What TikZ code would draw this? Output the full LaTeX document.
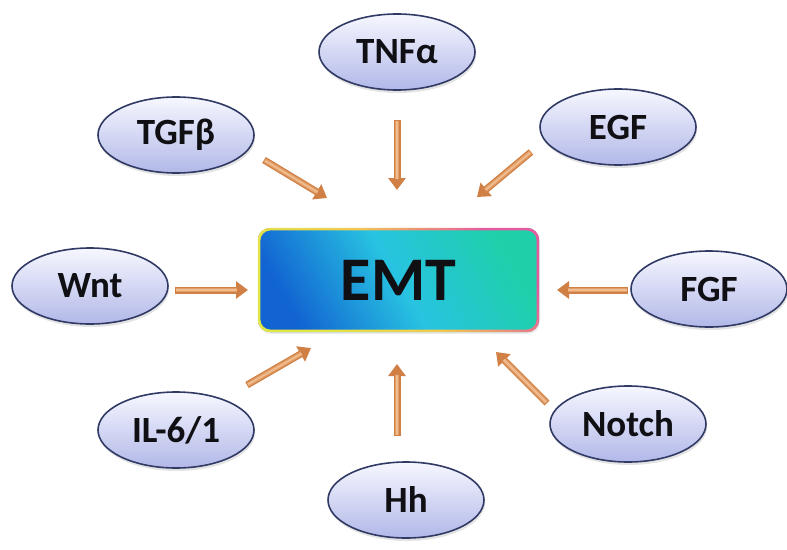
\documentclass[tikz,border=0pt]{standalone}
\usepackage{fontspec}
\setmainfont{Carlito}
\usetikzlibrary{shapes.geometric,arrows.meta,shadows}
\definecolor{ellborder}{RGB}{48,58,100}
\definecolor{elltop}{RGB}{246,247,255}
\definecolor{ellbot}{RGB}{178,184,232}
\definecolor{arrdark}{RGB}{208,128,68}
\definecolor{arrmid}{RGB}{226,158,104}
\definecolor{arrlight}{RGB}{240,188,142}
\definecolor{emtblue}{RGB}{18,100,210}
\definecolor{emtcyan}{RGB}{40,195,225}
\definecolor{emtteal}{RGB}{30,208,170}
\definecolor{rimyellow}{RGB}{225,232,70}
\definecolor{rimorange}{RGB}{242,200,80}
\definecolor{rimpink}{RGB}{230,90,160}
\definecolor{txt}{RGB}{15,15,20}
\begin{document}
\begin{tikzpicture}[x=1pt,y=-1pt,
  sigbox/.style={ellipse, draw=ellborder, line width=1.6pt, top color=elltop, bottom color=ellbot,
    minimum width=156pt, minimum height=76pt, inner sep=0pt, text=txt,
    font=\fontsize{37}{40}\selectfont\bfseries,
    drop shadow={shadow xshift=1pt, shadow yshift=-3pt, opacity=0.22}},
  emtbox/.style={rectangle, rounded corners=12pt, minimum width=281pt, minimum height=104pt,
    top color=emtteal, bottom color=emtblue, middle color=emtcyan, shading angle=-60,
    text=txt, font=\fontsize{62}{64}\selectfont\bfseries,
    drop shadow={shadow xshift=1pt, shadow yshift=-2pt, opacity=0.15}},
  rim/.style={even odd rule, top color=rimpink, bottom color=rimyellow, middle color=rimorange, shading angle=-50},
  shaft/.style={draw=arrdark, line width=7pt, -{Triangle[length=12pt,width=17pt]}},
  shaftmid/.style={draw=arrmid, line width=4.4pt, shorten >=11pt, shorten <=0.8pt},
  shine/.style={draw=arrlight, line width=1.8pt, shorten >=11pt, shorten <=1.4pt},
]
\useasboundingbox (0,0) rectangle (787,549);

% central box
\node[emtbox] (emt) at (398.5,280) {EMT};
\shade[rim, rounded corners=12pt] (emt.south west) rectangle (emt.north east)
  [rounded corners=10pt] ([shift={(2.6pt,2.6pt)}]emt.south west) rectangle ([shift={(-2.6pt,-2.6pt)}]emt.north east);

% signal ellipses
\node[sigbox] (tnf) at (397,52) {TNFα};
\node[sigbox] (tgf) at (176,135) {TGFβ};
\node[sigbox] (egf) at (618,127) {EGF};
\node[sigbox] (wnt) at (90,286) {Wnt};
\node[sigbox] (fgf) at (709,289) {FGF};
\node[sigbox] (il) at (176,430) {IL-6/1};
\node[sigbox] (hh) at (406,500) {Hh};
\node[sigbox] (notch) at (628,424) {Notch};

% arrow ends
\coordinate (tnfA) at (397,120);   \coordinate (tnfB) at (397,190);
\coordinate (tgfA) at (264,160);   \coordinate (tgfB) at (327,198);
\coordinate (egfA) at (531,152);   \coordinate (egfB) at (477,197);
\coordinate (wntA) at (175,290);   \coordinate (wntB) at (248,290);
\coordinate (fgfA) at (628,290);   \coordinate (fgfB) at (557,290);
\coordinate (ilA) at (247,385);    \coordinate (ilB) at (311,348);
\coordinate (hhA) at (397,436);    \coordinate (hhB) at (397,364);
\coordinate (notchA) at (547,403); \coordinate (notchB) at (496,352);

\foreach \n in {tnf,tgf,egf,wnt,fgf,il,hh,notch}{
  \draw[shaft] (\n A) -- (\n B);
  \draw[shaftmid] (\n A) -- (\n B);
  \draw[shine] (\n A) -- (\n B);
}
\end{tikzpicture}
\end{document}
